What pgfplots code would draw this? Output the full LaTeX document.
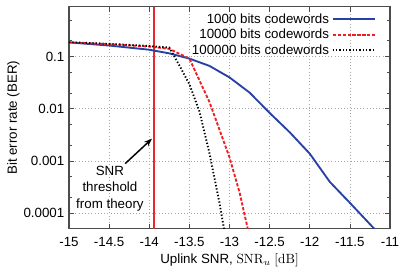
\documentclass[border=0pt]{standalone}
\usepackage[no-math]{fontspec}
\setmainfont{Liberation Sans}
\usepackage{pgfplots}
\pgfplotsset{compat=1.18}
\usetikzlibrary{arrows.meta}
\definecolor{bblue}{RGB}{40,65,165}
\definecolor{rred}{RGB}{240,30,35}
\definecolor{vred}{RGB}{235,40,50}
\begin{document}
\begin{tikzpicture}
\fontsize{10pt}{12pt}\selectfont
\begin{axis}[
  scale only axis,
  width=240.75pt, height=166.7pt,
  ymode=log,
  xmin=-15, xmax=-11,
  ymin=5e-5, ymax=0.9,
  xtick={-15,-14.5,...,-11},
  ytick={0.0001,0.001,0.01,0.1},
  yticklabels={0.0001,0.001,0.01,0.1},
  minor ytick={0.0002,0.0005,0.002,0.005,0.02,0.05,0.2,0.5},
  /pgf/number format/assume math mode=true,
  xticklabel style={yshift=-3pt, /pgf/number format/.cd, fixed, precision=1},
  tick align=inside,
  major tick length=4pt,
  minor tick length=2.5pt,
  tick style={color=black!70, line width=0.5pt},
  axis line style={color=black!70, line width=0.8pt},
  grid=major,
  major grid style={dotted, color=black!35, line width=0.4pt},
  xlabel={Uplink SNR, $\mathrm{SNR}_u\ [\mathrm{dB}]$},
  ylabel={Bit error rate (BER)},
  xlabel style={yshift=2pt},
  ylabel style={yshift=-4pt},
  tick label style={font=\fontsize{10pt}{12pt}\selectfont},
  label style={font=\fontsize{10pt}{12pt}\selectfont},
  legend style={draw=none, fill=none, at={(1,1)}, anchor=north east,
    xshift=-10pt, yshift=-3pt, font=\fontsize{10pt}{11pt}\selectfont,
    row sep=-1.2pt, inner sep=0pt},
  legend cell align=right,
  legend plot pos=right,
  legend image code/.code={\draw[#1, line width=1.5pt] (-2pt,0pt) -- (30pt,0pt);},
  clip=true,
]
\addplot[vred, line width=1.5pt, forget plot] coordinates {(-13.94,5e-5) (-13.94,0.9)};
\addplot[bblue, line width=1.4pt] coordinates {
(-15,0.1862) (-14.75,0.1738) (-14.5,0.1622) (-14.25,0.1479) (-14,0.1349)
(-13.75,0.1148) (-13.5,0.0912) (-13.25,0.0661) (-13,0.0398) (-12.75,0.0204)
(-12.5,0.00832) (-12.25,0.00355) (-12,0.00138) (-11.75,0.000398)
(-11.5,0.000158) (-11.25,6.17e-5) (-11,2.4e-5)};
\addlegendentry{1000 bits codewords}
\addplot[rred, line width=1.4pt, dash pattern=on 2.4pt off 1.3pt] coordinates {
(-15,0.186) (-14.5,0.172) (-14,0.155) (-13.75,0.140) (-13.5,0.0912)
(-13.25,0.0135) (-13,0.00117) (-12.875,0.000251) (-12.75,3.55e-5)};
\addlegendentry{10000 bits codewords}
\addplot[black, line width=1.4pt, dash pattern=on 1pt off 1.5pt] coordinates {
(-15,0.188) (-14.5,0.175) (-14,0.159) (-13.75,0.148) (-13.625,0.0676)
(-13.5,0.0295) (-13.375,0.00891) (-13.25,0.00141) (-13.125,0.000158)
(-13,1.26e-5)};
\addlegendentry{100000 bits codewords}
\draw[-{Stealth[length=6pt,width=4.5pt]}, line width=1.1pt]
  (axis cs:-14.30,0.00089) -- (axis cs:-13.966,0.00267);
\node[align=center, font=\fontsize{10pt}{12.4pt}\selectfont]
  at (axis cs:-14.49,0.000295) {SNR\\threshold\\from theory};
\end{axis}
\pgfresetboundingbox
\path (current axis.south west) ++(-51.75pt,-37.5pt) coordinate (bbA);
\path (current axis.north east) ++(18.75pt,5pt) coordinate (bbB);
\useasboundingbox (bbA) rectangle (bbB);
\end{tikzpicture}
\end{document}
